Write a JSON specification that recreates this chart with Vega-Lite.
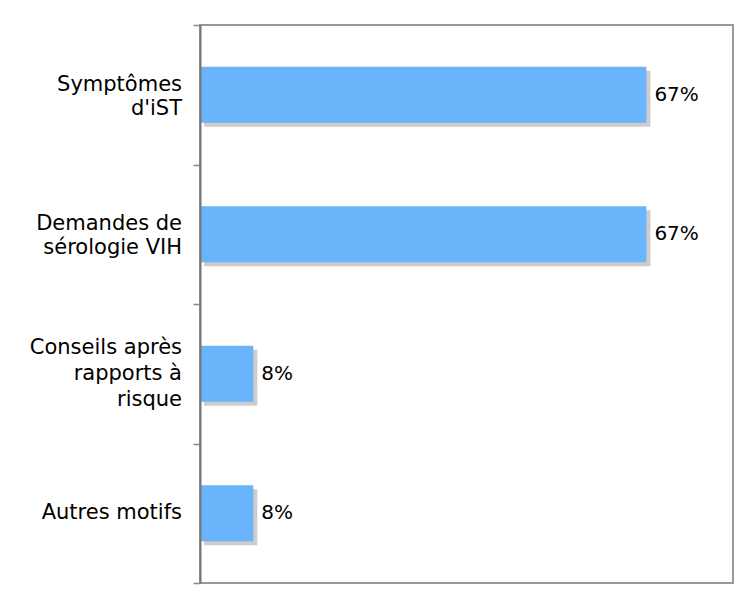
{
  "$schema": "https://vega.github.io/schema/vega-lite/v6.json",
  "width": 533,
  "height": 558,
  "autosize": "none",
  "padding": {"left": 200, "top": 25, "right": 9, "bottom": 13},
  "background": "white",
  "config": {
    "view": {"stroke": "#999999", "strokeWidth": 2},
    "font": "DejaVu Sans",
    "text": {"font": "DejaVu Sans", "color": "black", "baseline": "middle"}
  },
  "data": {
    "values": [
      {"motif": "Symptômes d'iST", "pct": 67, "label": "67%", "l_demi_haut": "Symptômes", "l_demi_bas": "d'iST"},
      {"motif": "Demandes de sérologie VIH", "pct": 67, "label": "67%", "l_demi_haut": "Demandes de", "l_demi_bas": "sérologie VIH"},
      {"motif": "Conseils après rapports à risque", "pct": 8, "label": "8%", "l_haut": "Conseils après", "l_centre": "rapports à", "l_bas": "risque"},
      {"motif": "Autres motifs", "pct": 8, "label": "8%", "l_centre": "Autres motifs"}
    ]
  },
  "encoding": {
    "y": {
      "field": "motif",
      "type": "nominal",
      "sort": null,
      "scale": {"paddingInner": 0, "paddingOuter": 0},
      "axis": {
        "title": null,
        "labels": false,
        "tickBand": "extent",
        "tickSize": 7,
        "tickColor": "#888888",
        "tickWidth": 1.5,
        "domainColor": "#777777",
        "domainWidth": 2,
        "zindex": 1
      }
    },
    "x": {
      "field": "pct",
      "type": "quantitative",
      "scale": {"domain": [0, 80]},
      "axis": null
    }
  },
  "layer": [
    {"mark": {"type": "bar", "color": "#cccccc", "xOffset": 4, "yOffset": 4, "height": {"band": 0.4}}},
    {"mark": {"type": "bar", "color": "#69b4fb", "height": {"band": 0.4}}},
    {
      "mark": {"type": "text", "align": "left", "dx": 8, "fontSize": 20},
      "encoding": {"text": {"field": "label"}}
    },
    {
      "transform": [{"filter": "isValid(datum.l_haut)"}],
      "mark": {"type": "text", "align": "right", "dx": -18, "dy": -26, "fontSize": 21},
      "encoding": {"x": {"datum": 0}, "text": {"field": "l_haut"}}
    },
    {
      "transform": [{"filter": "isValid(datum.l_demi_haut)"}],
      "mark": {"type": "text", "align": "right", "dx": -18, "dy": -10, "fontSize": 21},
      "encoding": {"x": {"datum": 0}, "text": {"field": "l_demi_haut"}}
    },
    {
      "transform": [{"filter": "isValid(datum.l_centre)"}],
      "mark": {"type": "text", "align": "right", "dx": -18, "dy": 0, "fontSize": 21},
      "encoding": {"x": {"datum": 0}, "text": {"field": "l_centre"}}
    },
    {
      "transform": [{"filter": "isValid(datum.l_demi_bas)"}],
      "mark": {"type": "text", "align": "right", "dx": -18, "dy": 14, "fontSize": 21},
      "encoding": {"x": {"datum": 0}, "text": {"field": "l_demi_bas"}}
    },
    {
      "transform": [{"filter": "isValid(datum.l_bas)"}],
      "mark": {"type": "text", "align": "right", "dx": -18, "dy": 26, "fontSize": 21},
      "encoding": {"x": {"datum": 0}, "text": {"field": "l_bas"}}
    }
  ]
}
